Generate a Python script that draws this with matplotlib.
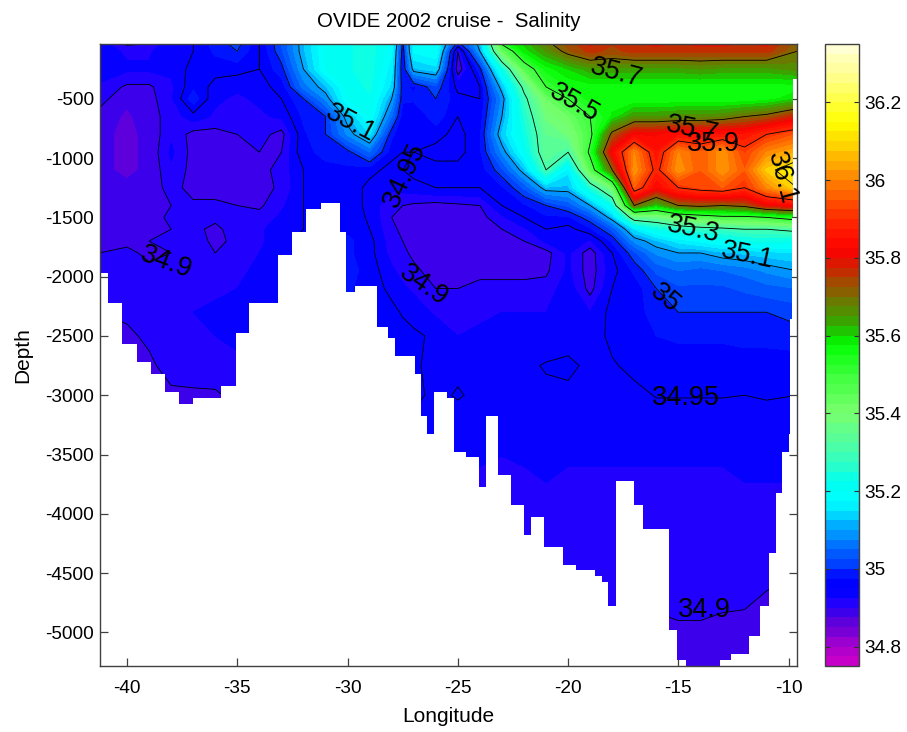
import numpy as np
import matplotlib
matplotlib.use('Agg')
import matplotlib.pyplot as plt
from matplotlib.colors import LinearSegmentedColormap
from matplotlib.patches import Polygon

plt.rcParams['font.family'] = ['Liberation Sans', 'DejaVu Sans']
plt.rcParams['axes.unicode_minus'] = False

# Seccion OVIDE 2002: salinidad
lon = [-41.25, -40, -39, -38, -37, -36, -35, -34, -33, -32, -31, -30, -29, -28, -27.5, -27, -26,
       -25, -24, -23, -22, -21, -20, -19, -18, -17, -16, -15, -14, -13, -12, -11, -9.62]
depth = [0, -100, -250, -400, -500, -650, -800, -950, -1100, -1250, -1400, -1500, -1600, -1700,
         -1800, -1950, -2100, -2300, -2500, -2750, -3000, -3250, -3600, -4000, -4500, -4900, -5300]

s0000 = [34.93, 34.88, 34.89, 34.94, 34.95, 34.99, 35.02, 34.95, 35.03, 35.12, 35.2, 35.22, 35.24, 35.2, 35.0, 35.18, 35.2, 35.02, 35.12, 35.56, 35.62, 35.7, 35.74, 35.8, 35.76, 35.78, 35.8, 35.78, 35.8, 35.8, 35.78, 35.8, 35.72]
s0100 = [34.94, 34.92, 34.92, 34.95, 34.95, 34.98, 35.0, 34.95, 35.02, 35.12, 35.2, 35.22, 35.24, 35.18, 34.98, 35.18, 35.2, 34.9, 35.1, 35.42, 35.58, 35.65, 35.72, 35.76, 35.74, 35.76, 35.76, 35.76, 35.76, 35.76, 35.76, 35.76, 35.7]
s0250 = [34.94, 34.93, 34.93, 34.93, 34.96, 34.96, 34.96, 34.95, 34.99, 35.1, 35.2, 35.22, 35.24, 35.16, 34.97, 35.12, 35.14, 34.88, 34.99, 35.22, 35.45, 35.56, 35.6, 35.64, 35.64, 35.64, 35.64, 35.64, 35.65, 35.64, 35.64, 35.64, 35.66]
s0400 = [34.92, 34.895, 34.895, 34.92, 34.97, 34.94, 34.93, 34.94, 34.96, 35.06, 35.12, 35.21, 35.23, 35.14, 34.98, 34.97, 35.02, 34.94, 34.95, 35.12, 35.32, 35.5, 35.55, 35.56, 35.56, 35.56, 35.56, 35.56, 35.56, 35.56, 35.56, 35.56, 35.56]
s0500 = [34.91, 34.88, 34.89, 34.92, 34.99, 34.93, 34.92, 34.93, 34.95, 35.0, 35.08, 35.2, 35.22, 35.1, 34.98, 34.98, 35.0, 34.96, 34.95, 35.08, 35.28, 35.42, 35.5, 35.56, 35.56, 35.55, 35.55, 35.55, 35.55, 35.55, 35.55, 35.56, 35.6]
s0650 = [34.89, 34.87, 34.89, 34.91, 34.94, 34.92, 34.92, 34.92, 34.93, 34.98, 35.0, 35.12, 35.2, 35.05, 34.96, 34.95, 34.99, 34.95, 34.96, 35.1, 35.25, 35.38, 35.42, 35.5, 35.58, 35.65, 35.65, 35.66, 35.66, 35.67, 35.7, 35.72, 35.78]
s0800 = [34.88, 34.87, 34.88, 34.92, 34.89, 34.89, 34.9, 34.91, 34.89, 34.97, 35.0, 35.08, 35.15, 34.98, 34.96, 34.97, 34.96, 34.94, 34.97, 35.13, 35.23, 35.35, 35.38, 35.48, 35.72, 35.82, 35.82, 35.84, 35.84, 35.85, 35.85, 35.9, 35.95]
s0950 = [34.88, 34.87, 34.88, 34.93, 34.89, 34.88, 34.89, 34.9, 34.9, 34.97, 34.98, 34.99, 35.05, 34.96, 34.95, 34.95, 34.94, 34.94, 34.97, 35.08, 35.2, 35.35, 35.3, 35.52, 35.82, 36.0, 35.85, 36.0, 35.95, 36.02, 35.92, 36.0, 36.05]
s1100 = [34.88, 34.87, 34.88, 34.92, 34.89, 34.89, 34.89, 34.89, 34.91, 34.95, 34.97, 34.97, 34.96, 34.94, 34.95, 34.96, 34.96, 34.96, 34.96, 35.02, 35.12, 35.3, 35.16, 35.45, 35.7, 36.02, 35.88, 36.02, 35.95, 36.02, 35.95, 36.08, 36.15]
s1250 = [34.89, 34.88, 34.885, 34.91, 34.89, 34.89, 34.89, 34.89, 34.905, 34.95, 34.97, 34.97, 34.94, 34.93, 34.935, 34.94, 34.95, 34.95, 34.95, 34.97, 35.03, 35.12, 35.12, 35.25, 35.4, 35.95, 35.82, 35.9, 35.93, 35.95, 35.9, 36.0, 36.1]
s1400 = [34.89, 34.885, 34.89, 34.9, 34.905, 34.905, 34.9, 34.895, 34.92, 34.95, 34.97, 34.97, 34.94, 34.905, 34.9, 34.895, 34.89, 34.895, 34.9, 34.95, 34.97, 35.0, 35.03, 35.1, 35.22, 35.7, 35.6, 35.7, 35.72, 35.7, 35.72, 35.8, 35.82]
s1500 = [34.89, 34.885, 34.89, 34.905, 34.91, 34.905, 34.905, 34.91, 34.93, 34.95, 34.97, 34.97, 34.945, 34.9, 34.895, 34.89, 34.885, 34.89, 34.89, 34.92, 34.95, 34.97, 34.97, 35.02, 35.12, 35.35, 35.36, 35.42, 35.45, 35.48, 35.48, 35.5, 35.55]
s1600 = [34.89, 34.89, 34.895, 34.9, 34.905, 34.895, 34.91, 34.92, 34.94, 34.95, 34.97, 34.97, 34.95, 34.905, 34.895, 34.89, 34.885, 34.885, 34.89, 34.9, 34.92, 34.95, 34.94, 34.97, 35.03, 35.15, 35.22, 35.25, 35.27, 35.28, 35.3, 35.3, 35.32]
s1700 = [34.895, 34.895, 34.9, 34.905, 34.91, 34.895, 34.905, 34.92, 34.94, 34.96, 34.97, 34.98, 34.96, 34.91, 34.9, 34.895, 34.885, 34.885, 34.89, 34.89, 34.9, 34.93, 34.95, 34.92, 34.98, 35.08, 35.12, 35.16, 35.18, 35.2, 35.22, 35.23, 35.22]
s1800 = [34.9, 34.905, 34.895, 34.9, 34.91, 34.9, 34.91, 34.925, 34.94, 34.96, 34.97, 34.98, 34.96, 34.915, 34.905, 34.895, 34.885, 34.89, 34.89, 34.89, 34.89, 34.89, 34.93, 34.885, 34.95, 35.02, 35.08, 35.1, 35.1, 35.12, 35.13, 35.14, 35.15]
s1950 = [34.9, 34.91, 34.905, 34.905, 34.915, 34.915, 34.92, 34.93, 34.94, 34.96, 34.97, 34.985, 34.965, 34.93, 34.915, 34.905, 34.89, 34.89, 34.895, 34.895, 34.895, 34.895, 34.93, 34.885, 34.94, 34.98, 35.03, 35.05, 35.04, 35.05, 35.06, 35.08, 35.1]
s2100 = [34.9, 34.915, 34.915, 34.915, 34.925, 34.92, 34.925, 34.935, 34.945, 34.96, 34.97, 34.98, 34.96, 34.945, 34.93, 34.92, 34.9, 34.9, 34.905, 34.905, 34.905, 34.91, 34.94, 34.89, 34.95, 34.96, 35.0, 35.02, 35.02, 35.02, 35.03, 35.04, 35.05]
s2300 = [34.9, 34.905, 34.915, 34.92, 34.925, 34.93, 34.935, 34.94, 34.95, 34.96, 34.97, 34.98, 34.97, 34.955, 34.948, 34.94, 34.92, 34.91, 34.92, 34.925, 34.925, 34.925, 34.935, 34.925, 34.96, 34.96, 34.99, 35.0, 35.0, 35.0, 35.0, 35.0, 35.01]
s2500 = [34.89, 34.895, 34.905, 34.915, 34.92, 34.925, 34.93, 34.94, 34.95, 34.96, 34.97, 34.97, 34.97, 34.96, 34.957, 34.955, 34.945, 34.925, 34.93, 34.93, 34.93, 34.935, 34.94, 34.94, 34.955, 34.965, 34.975, 34.98, 34.98, 34.98, 34.985, 34.985, 34.99]
s2750 = [34.88, 34.885, 34.895, 34.91, 34.915, 34.92, 34.92, 34.93, 34.94, 34.95, 34.96, 34.97, 34.97, 34.96, 34.957, 34.955, 34.94, 34.945, 34.94, 34.94, 34.945, 34.952, 34.955, 34.945, 34.948, 34.955, 34.96, 34.96, 34.96, 34.96, 34.96, 34.96, 34.96]
s3000 = [34.88, 34.88, 34.89, 34.895, 34.895, 34.895, 34.91, 34.92, 34.93, 34.94, 34.95, 34.96, 34.96, 34.96, 34.957, 34.955, 34.945, 34.952, 34.945, 34.945, 34.945, 34.945, 34.945, 34.945, 34.95, 34.945, 34.951, 34.951, 34.951, 34.951, 34.95, 34.952, 34.95]
s3250 = [34.88, 34.88, 34.89, 34.895, 34.895, 34.895, 34.91, 34.92, 34.93, 34.94, 34.95, 34.95, 34.95, 34.95, 34.947, 34.945, 34.94, 34.94, 34.94, 34.94, 34.94, 34.94, 34.94, 34.94, 34.94, 34.94, 34.94, 34.94, 34.94, 34.94, 34.94, 34.94, 34.94]
s3600 = [34.88, 34.88, 34.89, 34.895, 34.895, 34.895, 34.91, 34.92, 34.93, 34.93, 34.93, 34.93, 34.93, 34.93, 34.93, 34.93, 34.93, 34.93, 34.925, 34.92, 34.925, 34.93, 34.925, 34.925, 34.925, 34.925, 34.925, 34.925, 34.925, 34.925, 34.93, 34.93, 34.93]
s4000 = [34.88, 34.88, 34.89, 34.895, 34.895, 34.895, 34.91, 34.92, 34.92, 34.92, 34.92, 34.92, 34.92, 34.92, 34.92, 34.92, 34.92, 34.92, 34.915, 34.915, 34.915, 34.915, 34.915, 34.915, 34.915, 34.915, 34.915, 34.915, 34.915, 34.915, 34.915, 34.915, 34.915]
s4500 = [34.88, 34.88, 34.89, 34.895, 34.895, 34.895, 34.91, 34.91, 34.91, 34.91, 34.91, 34.91, 34.91, 34.91, 34.91, 34.91, 34.91, 34.91, 34.91, 34.91, 34.91, 34.91, 34.91, 34.91, 34.91, 34.91, 34.91, 34.91, 34.91, 34.91, 34.91, 34.903, 34.9]
s4900 = [34.88, 34.88, 34.89, 34.895, 34.895, 34.895, 34.9, 34.9, 34.9, 34.9, 34.9, 34.9, 34.9, 34.9, 34.9, 34.9, 34.9, 34.9, 34.9, 34.9, 34.9, 34.9, 34.9, 34.9, 34.9, 34.905, 34.898, 34.9, 34.9, 34.898, 34.897, 34.895, 34.89]
s5300 = [34.88, 34.88, 34.88, 34.88, 34.88, 34.88, 34.88, 34.88, 34.88, 34.88, 34.88, 34.88, 34.88, 34.88, 34.88, 34.88, 34.88, 34.88, 34.88, 34.88, 34.88, 34.88, 34.88, 34.88, 34.88, 34.89, 34.885, 34.885, 34.885, 34.885, 34.885, 34.885, 34.885]

# Fondo: bordes en longitud y profundidad de cada escalon
bottom_lon = [-41.25, -40.88, -40.24, -39.57, -38.92, -38.27, -37.65, -37.0, -35.73, -35.08, -34.46,
              -33.16, -32.54, -31.89, -31.22, -30.35, -30.08, -29.68, -28.68, -28.16, -27.84, -26.96,
              -26.69, -26.39, -26.09, -25.5, -25.18, -24.63, -24.05, -23.74, -23.17, -22.58, -22.0,
              -21.7, -21.11, -20.24, -19.66, -18.77, -18.47, -18.21, -17.83, -17.02, -16.62, -15.44,
              -15.05, -14.66, -13.1, -12.63, -11.79, -11.32, -10.89, -10.56, -10.29, -10.0, -9.93,
              -9.86, -9.79, -9.62]
bottom_depth = [-1971, -2224, -2570, -2722, -2823, -2975, -3073, -3026, -2922, -2478, -2224,
                -1820, -1620, -1429, -1379, -1620, -2126, -2076, -2427, -2520, -2671, -2823,
                -3175, -3326, -2975, -3026, -3481, -3523, -3776, -3177, -3672, -3925, -4178,
                -4026, -4279, -4431, -4473, -4523, -4574, -4774, -3725, -3925, -4128, -4976,
                -5229, -5300, -5229, -5179, -5027, -4774, -4330, -3824, -3481, -3326, -2360,
                -1500, -330]

line_levels = [34.9, 34.95, 35, 35.1, 35.3, 35.5, 35.7, 35.9, 36.1]
cbar_ticks = [34.8, 35, 35.2, 35.4, 35.6, 35.8, 36, 36.2]

# etiquetas de contorno: texto, lon, prof, rotacion
label_text = ['35.1', '34.95', '34.9', '34.9', '35.7', '35.5', '35.7', '35.9', '36.1', '35.3', '35.1', '35', '34.95', '34.9']
label_lon = [-29.85, -27.41, -38.24, -26.54, -17.83, -19.74, -14.39, -13.43, -10.3, -14.34, -11.89, -15.61, -14.66, -13.8]
label_depth = [-704, -1143, -1876, -2070, -282, -535, -763, -881, -1168, -1606, -1825, -2180, -3023, -4810]
label_rot = [-28, 65, -20, -35, -15, -30, -12, 0, -75, -12, -12, -40, 0, 0]

sal = np.array([s0000, s0100, s0250, s0400, s0500, s0650, s0800, s0950, s1100, s1250, s1400, s1500, s1600, s1700,
                s1800, s1950, s2100, s2300, s2500, s2750, s3000, s3250, s3600, s4000, s4500, s4900, s5300])

# Colormap de la barra (jet modificado)
vmin, vmax = 34.75, 36.35
anchors = [(34.75, (210, 0, 200)), (34.8, (165, 0, 205)), (34.8625, (90, 0, 220)), (34.8875, (60, 0, 235)),
           (34.9125, (30, 0, 255)), (34.94, (0, 0, 255)), (34.975, (0, 0, 255)), (35.0, (0, 50, 255)), (35.1, (0, 160, 255)),
           (35.17, (0, 255, 255)), (35.22, (0, 255, 240)), (35.3, (70, 255, 175)), (35.4, (120, 255, 110)),
           (35.5, (60, 255, 60)), (35.58, (0, 255, 0)), (35.62, (40, 180, 0)), (35.7, (120, 110, 0)),
           (35.78, (210, 30, 0)), (35.82, (255, 0, 0)), (35.9, (255, 40, 0)), (36.0, (255, 130, 0)),
           (36.1, (255, 220, 0)), (36.15, (255, 255, 0)), (36.25, (255, 255, 120)), (36.35, (255, 255, 220))]
cmap = LinearSegmentedColormap.from_list(
    'ovide', [((v - vmin) / (vmax - vmin), tuple(c / 255 for c in rgb)) for v, rgb in anchors], N=512)
levels = np.linspace(vmin, vmax, 65)

fig = plt.figure(figsize=(9.07, 7.32), dpi=100)
ax = fig.add_axes([99.5 / 907, 66 / 732, 697.5 / 907, 622 / 732])
cax = fig.add_axes([824.5 / 907, 66 / 732, 34.5 / 907, 622 / 732])

cf = ax.contourf(lon, depth, sal, levels=levels, cmap=cmap, vmin=vmin, vmax=vmax)
cl = ax.contour(lon, depth, sal, levels=line_levels, colors='k', linewidths=0.6)

# recorte por el fondo (blanco sin datos, como en el original)
step_x = np.repeat(bottom_lon, 2)[1:-1]
step_y = np.repeat(bottom_depth, 2)
outline = np.column_stack([np.r_[bottom_lon[0], step_x, bottom_lon[-1]], np.r_[0, step_y, 0]])
clip = Polygon(outline, transform=ax.transData)
cf.set_clip_path(clip)
cl.set_clip_path(clip)

for txt, x, y, r in zip(label_text, label_lon, label_depth, label_rot):
    ax.text(x, y, txt, fontsize=19.5, rotation=r, ha='center', va='center', rotation_mode='anchor', color='k')

ax.set_xlim(-41.25, -9.62)
ax.set_ylim(-5283, -38)
ax.set_xticks([-40, -35, -30, -25, -20, -15, -10])
ax.set_yticks([-500, -1000, -1500, -2000, -2500, -3000, -3500, -4000, -4500, -5000])
ax.tick_params(direction='in', top=True, right=True, length=5.8, width=0.9, color='#404040', labelsize=13.7)
ax.tick_params(axis='x', pad=10)
ax.tick_params(axis='y', pad=4)
ax.set_axisbelow(True)
for sp in ax.spines.values():
    sp.set_color('#404040')
    sp.set_linewidth(1.0)
ax.set_title('OVIDE 2002 cruise -  Salinity', fontsize=14.7, pad=12)
ax.set_xlabel('Longitude', fontsize=15, labelpad=7)
ax.set_ylabel('Depth', fontsize=15, labelpad=9)

cb = fig.colorbar(cf, cax=cax, ticks=cbar_ticks)
cb.ax.set_yticklabels(['34.8', '35', '35.2', '35.4', '35.6', '35.8', '36', '36.2'])
cb.ax.minorticks_off()
cb.ax.tick_params(direction='in', left=True, right=True, length=3.6, width=0.8, color='#303030', labelsize=13.7, pad=4)
cb.outline.set_edgecolor('#404040')
cb.outline.set_linewidth(1.0)

fig.savefig('out.png', dpi=100)
